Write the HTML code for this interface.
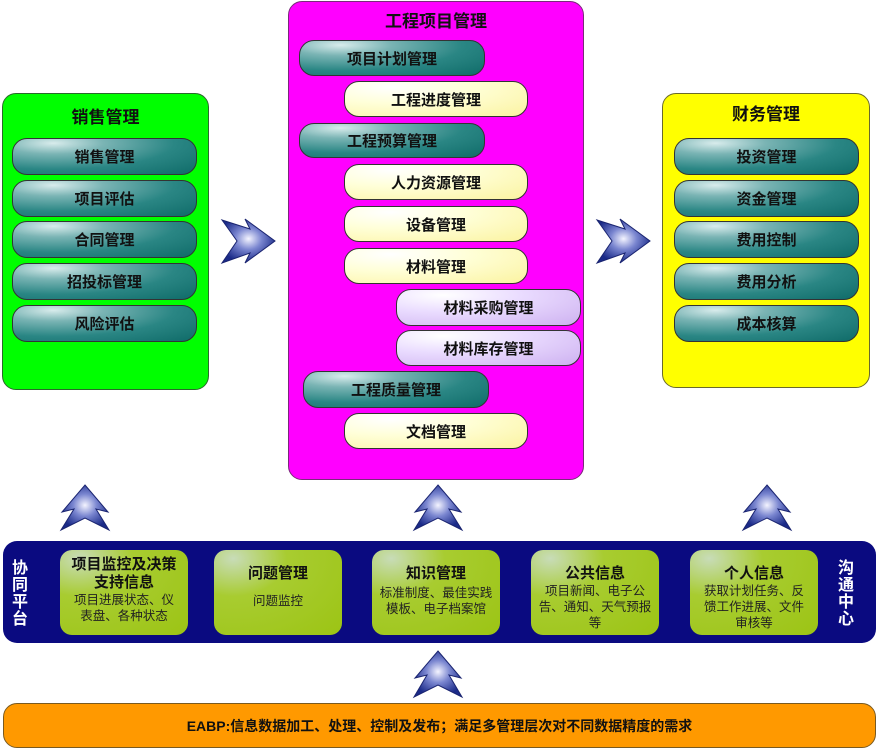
<!DOCTYPE html>
<html><head><meta charset="utf-8"><style>
*{margin:0;padding:0;box-sizing:border-box}
body{width:877px;height:750px;background:#fff;position:relative;overflow:hidden;font-family:"Liberation Sans","Noto Sans CJK SC",sans-serif}
.a{position:absolute}
.box{position:absolute;border:1px solid #555;border-radius:14px}
.t{position:absolute;font-weight:bold;font-size:17px;color:#111;text-align:center}
.p{position:absolute;border-radius:15px;border:1px solid #333;font-weight:bold;font-size:15px;color:#111;display:flex;align-items:center;justify-content:center}
.teal{background:radial-gradient(ellipse at 22% 12%,#d8ecec 0%,#7ab4b4 25%,#2a8684 60%,#0f6b68 100%)}
.yel{background:radial-gradient(ellipse at 25% 15%,#ffffff 0%,#ffffd8 40%,#fbf3a0 100%)}
.lav{background:radial-gradient(ellipse at 25% 15%,#ffffff 0%,#eadcff 40%,#cdb0f0 100%)}
.g{position:absolute;top:550px;width:128px;height:85px;border-radius:12px;background:radial-gradient(ellipse at 15% 10%,#c8dcb8 0%,#a8cc30 35%,#9cc414 100%);text-align:center;color:#111}
.g b{display:block;font-size:15px;line-height:18px}
.g span{display:block;font-size:12.5px;line-height:16px;color:#222}
</style></head><body>
<div class="box" style="left:2px;top:93px;width:207px;height:297px;background:#00ff00;border-color:#2a6a2a"></div>
<div class="t" style="left:2px;top:103px;width:207px">销售管理</div>
<div class="p teal" style="left:12px;top:138px;width:185px;height:37px">销售管理</div>
<div class="p teal" style="left:12px;top:180px;width:185px;height:37px">项目评估</div>
<div class="p teal" style="left:12px;top:221px;width:185px;height:37px">合同管理</div>
<div class="p teal" style="left:12px;top:263px;width:185px;height:37px">招投标管理</div>
<div class="p teal" style="left:12px;top:305px;width:185px;height:37px">风险评估</div>
<div class="box" style="left:288px;top:1px;width:296px;height:479px;background:#ff00ff;border-color:#7a2a7a"></div>
<div class="t" style="left:288px;top:7px;width:296px">工程项目管理</div>
<div class="p teal" style="left:299px;top:40px;width:186px;height:36px">项目计划管理</div>
<div class="p yel" style="left:344px;top:81px;width:184px;height:36px">工程进度管理</div>
<div class="p teal" style="left:299px;top:123px;width:186px;height:35px">工程预算管理</div>
<div class="p yel" style="left:344px;top:164px;width:184px;height:36px">人力资源管理</div>
<div class="p yel" style="left:344px;top:206px;width:184px;height:36px">设备管理</div>
<div class="p yel" style="left:344px;top:248px;width:184px;height:36px">材料管理</div>
<div class="p lav" style="left:396px;top:289px;width:185px;height:37px">材料采购管理</div>
<div class="p lav" style="left:396px;top:330px;width:185px;height:36px">材料库存管理</div>
<div class="p teal" style="left:303px;top:371px;width:186px;height:37px">工程质量管理</div>
<div class="p yel" style="left:344px;top:413px;width:184px;height:36px">文档管理</div>
<div class="box" style="left:662px;top:93px;width:208px;height:295px;background:#ffff00;border-color:#6a6a2a"></div>
<div class="t" style="left:662px;top:100px;width:208px">财务管理</div>
<div class="p teal" style="left:674px;top:138px;width:185px;height:37px">投资管理</div>
<div class="p teal" style="left:674px;top:180px;width:185px;height:37px">资金管理</div>
<div class="p teal" style="left:674px;top:221px;width:185px;height:37px">费用控制</div>
<div class="p teal" style="left:674px;top:263px;width:185px;height:37px">费用分析</div>
<div class="p teal" style="left:674px;top:305px;width:185px;height:37px">成本核算</div>
<svg class="a" style="left:0;top:0" width="877" height="750">
<defs><radialGradient id="rg" cx="50%" cy="45%" r="55%"><stop offset="0" stop-color="#f4f4ff"/><stop offset="0.45" stop-color="#7a86d0"/><stop offset="1" stop-color="#1a2a88"/></radialGradient></defs>
<g fill="url(#rg)" stroke="#1a2470" stroke-width="1">
<polygon points="222,220 250,229 245,219 275,241 245,263 250,253 222,263 237,241"/>
<polygon points="597,220 625,229 620,219 650,241 620,263 625,253 597,263 612,241"/>
<polygon points="85,485 108,512 96,509 109,530 85,518 61,530 74,509 62,512"/>
<polygon points="438,485 461,512 449,509 462,530 438,518 414,530 427,509 415,512"/>
<polygon points="767,485 790,512 778,509 791,530 767,518 743,530 756,509 744,512"/>
<polygon points="438,651 461,678 449,675 462,697 438,685 414,697 427,675 415,678"/>
</g></svg>
<div class="a" style="left:3px;top:541px;width:873px;height:102px;background:#0a0a80;border-radius:14px"></div>
<div class="a" style="left:10px;top:560px;width:20px;color:#fff;font-size:16px;font-weight:bold;line-height:17px;text-align:center">协<br>同<br>平<br>台</div>
<div class="a" style="left:836px;top:560px;width:20px;color:#fff;font-size:16px;font-weight:bold;line-height:17px;text-align:center">沟<br>通<br>中<br>心</div>
<div class="g" style="left:60px"><b style="margin-top:6px">项目监控及决策<br>支持信息</b><span>项目进展状态、仪<br>表盘、各种状态</span></div>
<div class="g" style="left:214px"><b style="margin-top:15px">问题管理</b><span style="margin-top:10px">问题监控</span></div>
<div class="g" style="left:372px"><b style="margin-top:15px">知识管理</b><span style="margin-top:2px">标准制度、最佳实践<br>模板、电子档案馆</span></div>
<div class="g" style="left:531px"><b style="margin-top:15px">公共信息</b><span>项目新闻、电子公<br>告、通知、天气预报<br>等</span></div>
<div class="g" style="left:690px"><b style="margin-top:15px">个人信息</b><span>获取计划任务、反<br>馈工作进展、文件<br>审核等</span></div>
<div class="a" style="left:3px;top:703px;width:873px;height:45px;background:#ff9900;border:1px solid #7a5a20;border-radius:14px;display:flex;align-items:center;justify-content:center;font-size:14px;font-weight:bold;color:#111">EABP:信息数据加工、处理、控制及发布；满足多管理层次对不同数据精度的需求</div>
</body></html>
